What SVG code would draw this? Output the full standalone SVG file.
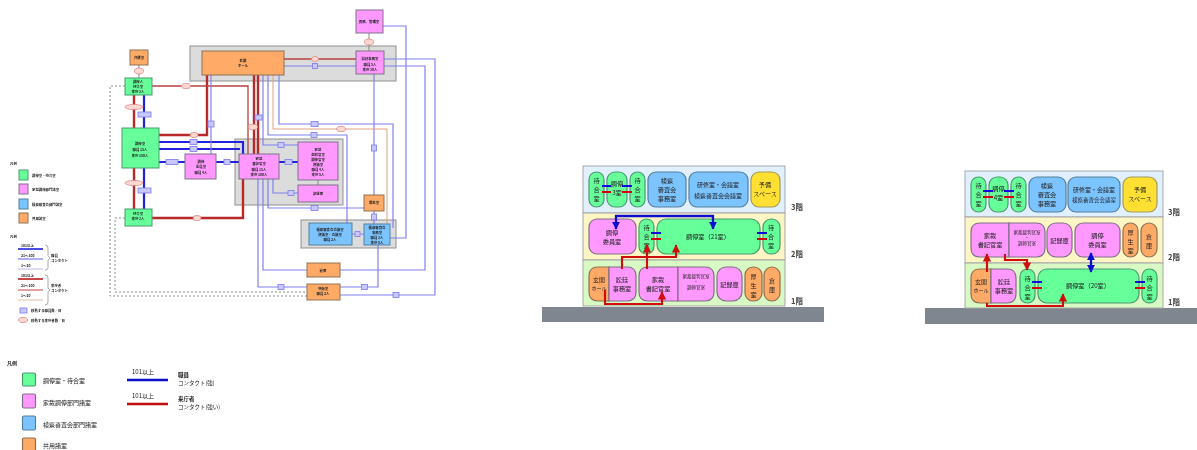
<svg xmlns="http://www.w3.org/2000/svg" width="1197" height="450" viewBox="0 0 1197 450">
<style>
text{font-family:"Noto Sans CJK JP","Liberation Sans",sans-serif;fill:#222;text-anchor:middle}
.l{text-anchor:start}
.t4{font-size:3.4px;font-weight:700}
.t5{font-size:5.5px}
.t6{font-size:6px}
.t7{font-size:6.2px}
.f{font-size:7.5px;font-weight:700;fill:#444}
.g{fill:#66ff99;stroke:#4d9a70}
.p{fill:#ff99ff;stroke:#80708a}
.b{fill:#7cc4ff;stroke:#55809a}
.o{fill:#ffaa66;stroke:#907050}
.y{fill:#ffe030;stroke:#a09a60}
.z{fill:#dcdcdc;stroke:#909090}
.r1,.r2,.b1,.b2,.or,.d{fill:none}
.r1{stroke:#b82a2a;stroke-width:2.4}
.r2{stroke:#b84040;stroke-width:1.3}
.or{stroke:#e0a080;stroke-width:1}
.b1{stroke:#2222dd;stroke-width:2.2}
.b2{stroke:#8080f0;stroke-width:1.2}
.d{stroke:#909090;stroke-width:1;stroke-dasharray:2 2}
.nb{fill:#c8c8ff;stroke:#7c7cf0;stroke-width:.8}
.ne{fill:#ffd8d0;stroke:#e08888;stroke-width:.8}
.s{stroke-width:1}
.m{stroke-width:1.2}
.cb{stroke:#0a0ad8;stroke-width:1.8;fill:none}
.cr{stroke:#d00010;stroke-width:1.8;fill:none}
.ar{stroke:#d01010;stroke-width:2.1;fill:none}
.ab{stroke:#1010d0;stroke-width:2.3;fill:none}
.band{stroke:#a8a8a8;stroke-width:1}
</style>
<defs>
<filter id="soft" x="-2%" y="-2%" width="104%" height="104%"><feGaussianBlur stdDeviation="0.45"/></filter>
<filter id="soft2" x="-2%" y="-2%" width="104%" height="104%"><feGaussianBlur stdDeviation="0.35"/></filter>
<marker id="ar" viewBox="0 0 10 10" refX="9" refY="5" markerWidth="4" markerHeight="4" orient="auto-start-reverse" markerUnits="strokeWidth"><path d="M0 0L10 5L0 10Z" fill="#d01010"/></marker>
<marker id="ab" viewBox="0 0 10 10" refX="9" refY="5" markerWidth="3.6" markerHeight="3.6" orient="auto-start-reverse" markerUnits="strokeWidth"><path d="M0 0L10 5L0 10Z" fill="#1010d0"/></marker>
</defs>

<g filter="url(#soft)">
<g id="zones">
<rect class="z" x="190" y="46" width="206" height="35"/>
<rect class="z" x="235" y="139" width="108" height="66"/>
<rect class="z" x="301" y="220" width="95" height="28"/>
</g>
<g id="connectors">
<path class="d" d="M125 86H110V296H307M125 218H115V292H307"/>
<path class="r1" d="M134 95V128M134 168V209M158 135H207V75M254 75V154M258 75V154M243 179V218H152"/>
<path class="r2" d="M152 86H248V154M284 59H356"/>
<path class="b1" d="M144 95V128M144 168V209M158 142H243V154M158 149H240M158 162H185M216 162H239M279 162H298"/>
<path class="b2" d="M211 75V154M263 75V145H298M268 75V135H347V223M279 75V124H393V228M284 66H356M384 59H435V295H340M384 66H425V270H340M383 26H406V238H390M374 74V195M374 211V224M258 179V287H307M263 179V270H307M268 179V208H364M273 179V193H298M352 234H364M378 245V287H340"/>
<path class="or" d="M273 75V129H387V224"/>
<path d="M318 180V185M139 65V78M369 33V51" stroke="#8a8a8a" fill="none"/>
<rect class="nb" x="138" y="112" width="13" height="5"/><ellipse class="ne" cx="134" cy="107" rx="9" ry="2.6"/>
<ellipse class="ne" cx="139" cy="71" rx="4.5" ry="3"/><ellipse class="ne" cx="186" cy="86" rx="4.5" ry="2.6"/><ellipse class="ne" cx="194" cy="135" rx="4" ry="2.6"/>
<rect class="nb" x="190" y="139.500" width="7" height="5"/><rect class="nb" x="190" y="146.500" width="7" height="5"/>
<rect class="nb" x="166" y="159.500" width="12" height="5"/><rect class="nb" x="224" y="159.500" width="6" height="5"/>
<rect class="nb" x="208" y="121" width="6" height="6"/><rect class="nb" x="255" y="115" width="7" height="5"/><ellipse class="ne" cx="253" cy="127" rx="4.500" ry="2.800"/>
<rect class="nb" x="278" y="142.500" width="6" height="5"/><rect class="nb" x="311" y="132.500" width="6" height="5"/>
<rect class="nb" x="311" y="121.500" width="7" height="5"/><ellipse class="ne" cx="341" cy="129" rx="4.500" ry="2.600"/>
<ellipse class="ne" cx="315" cy="59" rx="3.500" ry="2.500"/><rect class="nb" x="312.500" y="63.500" width="5" height="5"/><ellipse class="ne" cx="369" cy="42" rx="4.500" ry="3"/>
<ellipse class="ne" cx="134" cy="183" rx="9" ry="2.600"/><rect class="nb" x="138" y="188" width="13" height="5"/><ellipse class="ne" cx="197" cy="218" rx="4" ry="2.600"/>
<rect class="nb" x="285" y="159.500" width="7" height="5"/><rect class="nb" x="288" y="190.500" width="6" height="5"/><rect class="nb" x="311" y="205.500" width="7" height="5"/>
<rect class="nb" x="371.500" y="145" width="5" height="6"/><rect class="nb" x="371.500" y="214" width="5" height="6"/><rect class="nb" x="355" y="231.500" width="5" height="5"/>
<rect class="nb" x="278" y="284.500" width="6" height="5"/><rect class="nb" x="361.500" y="284.500" width="6" height="5"/><rect class="nb" x="393" y="292.500" width="6" height="5"/>
</g>
<g id="n-bengo"><rect class="o s" x="130" y="50" width="18" height="15"/><text class="t4" x="139" y="59">弁護室</text></g>
<g id="n-machi1"><rect class="g s" x="125" y="78" width="27" height="17"/><text class="t4" x="138" y="83">調停人</text><text class="t4" x="138" y="88">待合室</text><text class="t4" x="138" y="93">来庁 3人</text></g>
<g id="n-chotei"><rect class="g s" x="122" y="128" width="37" height="40"/><text class="t4" x="140" y="145">調停室</text><text class="t4" x="140" y="151">職員 15人</text><text class="t4" x="140" y="157">来庁 150人</text></g>
<g id="n-machi2"><rect class="g s" x="125" y="209" width="27" height="17"/><text class="t4" x="138" y="215">待合室</text><text class="t4" x="138" y="220">来庁 3人</text></g>
<g id="n-iin"><rect class="p s" x="185" y="154" width="31" height="25"/><text class="t4" x="201" y="163">調停</text><text class="t4" x="201" y="168">委員室</text><text class="t4" x="201" y="174">職員 4人</text></g>
<g id="n-shoki"><rect class="p s" x="239" y="154" width="40" height="25"/><text class="t4" x="259" y="160">家裁</text><text class="t4" x="259" y="165">書記官室</text><text class="t4" x="259" y="171">職員 15人</text><text class="t4" x="259" y="176">来庁 100人</text></g>
<g id="n-saiban"><rect class="p s" x="298" y="142" width="40" height="38"/><text class="t4" x="318" y="151">家裁</text><text class="t4" x="318" y="156">裁判官室</text><text class="t4" x="318" y="161">調停官室</text><text class="t4" x="318" y="166">評議室</text><text class="t4" x="318" y="171">職員 4人</text><text class="t4" x="318" y="176">来庁 5人</text></g>
<g id="n-kiroku"><rect class="p s" x="298" y="185" width="40" height="17"/><text class="t4" x="318" y="195">記録庫</text></g>
<g id="n-hall"><rect class="o s" x="202" y="51" width="82" height="24"/><text class="t4" x="243" y="62">玄関</text><text class="t4" x="243" y="67">ホール</text></g>
<g id="n-sotei"><rect class="p s" x="356" y="51" width="28" height="23"/><text class="t4" x="370" y="60">訟廷事務室</text><text class="t4" x="370" y="66">職員 5人</text><text class="t4" x="370" y="71">来庁 30人</text></g>
<g id="n-shomu"><rect class="p s" x="356" y="10" width="27" height="23"/><text class="t4" x="369" y="23">庶務、管理室</text></g>
<g id="n-kosei"><rect class="o s" x="364" y="195" width="20" height="16"/><text class="t4" x="374" y="204">厚生室</text></g>
<g id="n-kaigi"><rect class="b s" x="309" y="223" width="43" height="22"/><text class="t4" x="330" y="231">検察審査会会議室</text><text class="t4" x="330" y="236">評議室・会議室</text><text class="t4" x="330" y="241">職員 2人</text></g>
<g id="n-kensatsu"><rect class="b s" x="364" y="224" width="26" height="21"/><text class="t4" x="377" y="229">検察審査会</text><text class="t4" x="377" y="234">事務室</text><text class="t4" x="377" y="239">職員 3人</text><text class="t4" x="377" y="244">来庁 5人</text></g>
<g id="n-soko"><rect class="o s" x="307" y="263" width="33" height="14"/><text class="t4" x="323" y="272">倉庫</text></g>
<g id="n-shuei"><rect class="o s" x="307" y="284" width="33" height="16"/><text class="t4" x="323" y="290">守衛室</text><text class="t4" x="323" y="295">職員 2人</text></g>

<g id="legend-small">
<text class="t4 l" x="10" y="165">凡例</text>
<rect class="g s" x="19" y="170" width="9" height="10"/><text class="t4 l" x="32" y="177">調停室・待合室</text>
<rect class="p s" x="19" y="184" width="9" height="10"/><text class="t4 l" x="32" y="191">家裁調停部門諸室</text>
<rect class="b s" x="19" y="199" width="9" height="10"/><text class="t4 l" x="32" y="206">検察審査会部門諸室</text>
<rect class="o s" x="19" y="213" width="9" height="10"/><text class="t4 l" x="32" y="220">共用諸室</text>
<text class="t4 l" x="10" y="238">凡例</text>
<text class="t4 l" x="21" y="247">101以上</text><path d="M18 249H43" stroke="#2222dd" stroke-width="1.6"/>
<text class="t4 l" x="21" y="257">21～100</text><path d="M18 259H43" stroke="#6060e8" stroke-width="1"/>
<text class="t4 l" x="21" y="267">1～20</text><path d="M18 269H43" stroke="#a8a8f0" stroke-width=".8"/>
<text class="t4 l" x="21" y="277">101以上</text><path d="M18 279H43" stroke="#b81818" stroke-width="1.6"/>
<text class="t4 l" x="21" y="287">21～100</text><path d="M18 290H43" stroke="#c84848" stroke-width="1"/>
<text class="t4 l" x="21" y="297">1～20</text><path d="M18 300H43" stroke="#e0a890" stroke-width=".8"/>
<path d="M45 245Q48 245 48 248V256L50 258L48 260V268Q48 270 45 270M45 275Q48 275 48 278V288L50 290L48 292V302Q48 305 45 305" fill="none" stroke="#888" stroke-width=".7"/>
<text class="t4 l" x="51" y="257">職員</text><text class="t4 l" x="51" y="262">コンタクト</text>
<text class="t4 l" x="51" y="287">来庁者</text><text class="t4 l" x="51" y="292">コンタクト</text>
<rect class="nb" x="20" y="308" width="7" height="5"/><text class="t4 l" x="31" y="312">移動する職員数／日</text>
<ellipse class="ne" cx="23" cy="320" rx="4.500" ry="2.500"/><text class="t4 l" x="31" y="322">移動する来庁者数／日</text>
</g>

<g id="legend-large">
<text class="t4 l" x="7" y="365" style="font-size:5px">凡例</text>
<rect class="g m" x="22.500" y="373" width="13" height="13" rx="1.500"/><text class="t6 l" x="43" y="383">調停室・待合室</text>
<rect class="p m" x="22.500" y="394" width="13" height="14" rx="1.500"/><text class="t6 l" x="43" y="405">家裁調停部門諸室</text>
<rect class="b m" x="22.500" y="416" width="13" height="14" rx="1.500"/><text class="t6 l" x="43" y="427">検察審査会部門諸室</text>
<rect class="o m" x="22.500" y="438" width="13" height="14" rx="1.500"/><text class="t6 l" x="43" y="448">共用諸室</text>
<text class="t6" x="143" y="374">101以上</text><path d="M127 380H168" stroke="#1010c8" stroke-width="2.400"/>
<text class="t6" x="143" y="398">101以上</text><path d="M127 404H168" stroke="#c01010" stroke-width="2.400"/>
<text class="t5 l" x="178" y="377" style="font-weight:700">職員</text><text class="t5 l" x="178" y="385">コンタクト(強)</text>
<text class="t5 l" x="178" y="401" style="font-weight:700">来庁者</text><text class="t5 l" x="178" y="409">コンタクト(強い)</text>
</g>
</g>

<g filter="url(#soft2)">
<g id="building-21">
<rect x="542" y="307" width="282" height="15" fill="#7f8690"/>
<rect class="band" x="583" y="166" width="202" height="47" fill="#e0f0ff"/>
<rect class="band" x="583" y="213" width="202" height="47" fill="#fdf6c4"/>
<rect class="band" x="583" y="260" width="202" height="46" fill="#d8f8c4"/>
<g id="a3f">
<rect class="g m" x="589" y="172" width="15" height="35" rx="7.500"/><text class="t7" x="596.500" y="183">待</text><text class="t7" x="596.500" y="192">合</text><text class="t7" x="596.500" y="201">室</text>
<rect class="g m" x="607" y="172" width="20" height="35" rx="8"/><text class="t7" x="617" y="186">調停</text><text class="t7" x="617" y="195">3室</text>
<rect class="g m" x="630" y="172" width="15" height="35" rx="7.500"/><text class="t7" x="637.500" y="183">待</text><text class="t7" x="637.500" y="192">合</text><text class="t7" x="637.500" y="201">室</text>
<rect class="b m" x="648" y="172" width="38" height="35" rx="8"/><text class="t7" x="667" y="183">検察</text><text class="t7" x="667" y="192">審査会</text><text class="t7" x="667" y="201">事務室</text>
<rect class="b m" x="689" y="172" width="59" height="35" rx="8"/><text class="t6" x="718" y="187">研修室・会議室</text><text class="t6" x="718" y="198">検察審査会会議室</text>
<rect class="y m" x="751" y="172" width="29" height="35" rx="8"/><text class="t7" x="765" y="187">予備</text><text class="t6" x="765" y="196">スペース</text>
</g>
<g id="a2f">
<rect class="p m" x="589" y="219" width="47" height="35" rx="8"/><text class="t7" x="612" y="235">調停</text><text class="t7" x="612" y="244">委員室</text>
<rect class="g m" x="639" y="219" width="15" height="35" rx="7.500"/><text class="t7" x="646.500" y="230">待</text><text class="t7" x="646.500" y="239">合</text><text class="t7" x="646.500" y="248">室</text>
<rect class="g m" x="657" y="219" width="103" height="35" rx="9"/><text class="t7" x="708" y="239">調停室（21室）</text>
<rect class="g m" x="763" y="219" width="17" height="35" rx="8"/><text class="t7" x="771" y="230">待</text><text class="t7" x="771" y="239">合</text><text class="t7" x="771" y="248">室</text>
</g>
<g id="a1f">
<path class="o m" d="M609 267H598Q589 267 589 276V292Q589 301 598 301H609Z"/>
<path class="p m" d="M609 267H627Q636 267 636 276V292Q636 301 627 301H609Z"/>
<text class="t6" x="599" y="282">玄関</text><text class="t6" x="599" y="290" style="font-size:5px">ホール</text><text class="t7" x="622" y="282">訟廷</text><text class="t7" x="622" y="291">事務室</text>
<path class="p m" d="M678 267H648Q639 267 639 276V292Q639 301 648 301H678Z"/>
<path class="p m" d="M678 267H705Q714 267 714 276V292Q714 301 705 301H678Z"/>
<text class="t7" x="658" y="282">家裁</text><text class="t7" x="658" y="291">書記官室</text><text x="696" y="278" style="font-size:4.500px">家裁裁判官室<tspan x="696" dy="5">・</tspan><tspan x="696" dy="5.500">調停官室</tspan></text>
<rect class="p m" x="717" y="267" width="25" height="34" rx="9"/><text class="t7" x="729.500" y="287">記録庫</text>
<rect class="o m" x="745" y="267" width="17" height="34" rx="8"/><text class="t7" x="753.500" y="279">厚</text><text class="t7" x="753.500" y="288">生</text><text class="t7" x="753.500" y="297">室</text>
<rect class="o m" x="764" y="267" width="16" height="34" rx="8"/><text class="t7" x="772" y="283">倉</text><text class="t7" x="772" y="292">庫</text>
</g>
<g id="a-conn">
<path class="cb" d="M602 186H611M622 186H632M651 233H661M757 233H767"/>
<path class="cr" d="M602 192H611M622 192H632M651 239H661M757 239H767"/>
<path class="ab" d="M616 229V216H713V229" marker-start="url(#ab)" marker-end="url(#ab)"/>
<path class="ar" d="M622 269V257H676V245" marker-end="url(#ar)"/>
<path class="ar" d="M647 269V245" marker-end="url(#ar)"/>
<path class="ar" d="M605 290V304H662V292" marker-end="url(#ar)"/>
</g>
<text class="f" x="797" y="210">3階</text><text class="f" x="797" y="257">2階</text><text class="f" x="797" y="304">1階</text>
</g>

<g id="building-20">
<rect x="925" y="308" width="272" height="16" fill="#7f8690"/>
<rect class="band" x="965" y="171" width="198" height="46" fill="#e0f0ff"/>
<rect class="band" x="965" y="217" width="198" height="46" fill="#fdf6c4"/>
<rect class="band" x="965" y="263" width="198" height="45" fill="#d8f8c4"/>
<g id="b3f">
<rect class="g m" x="971" y="177" width="15" height="35" rx="7.500"/><text class="t7" x="978.500" y="188">待</text><text class="t7" x="978.500" y="197">合</text><text class="t7" x="978.500" y="206">室</text>
<rect class="g m" x="989" y="177" width="19" height="35" rx="8"/><text class="t7" x="998.500" y="191">調停</text><text class="t7" x="998.500" y="200">4室</text>
<rect class="g m" x="1011" y="177" width="15" height="35" rx="7.500"/><text class="t7" x="1018.500" y="188">待</text><text class="t7" x="1018.500" y="197">合</text><text class="t7" x="1018.500" y="206">室</text>
<rect class="b m" x="1029" y="177" width="37" height="35" rx="8"/><text class="t7" x="1047" y="188">検察</text><text class="t7" x="1047" y="197">審査会</text><text class="t7" x="1047" y="206">事務室</text>
<rect class="b m" x="1068" y="177" width="52" height="35" rx="8"/><text class="t6" x="1094" y="192">研修室・会議室</text><text class="t6" x="1094" y="202" style="font-size:5.500px">検察審査会会議室</text>
<rect class="y m" x="1123" y="177" width="34" height="35" rx="8"/><text class="t7" x="1140" y="192">予備</text><text class="t6" x="1140" y="201">スペース</text>
</g>
<g id="b2f">
<path class="p m" d="M1009 223H980Q971 223 971 232V248Q971 257 980 257H1009Z"/>
<path class="p m" d="M1009 223H1036Q1045 223 1045 232V248Q1045 257 1036 257H1009Z"/>
<text class="t7" x="990" y="238">家裁</text><text class="t7" x="990" y="247">書記官室</text><text x="1027" y="234" style="font-size:4.500px">家裁裁判官室<tspan x="1027" dy="5">・</tspan><tspan x="1027" dy="5.500">調停官室</tspan></text>
<rect class="p m" x="1047" y="223" width="25" height="34" rx="9"/><text class="t7" x="1059.500" y="243">記録庫</text>
<rect class="p m" x="1075" y="223" width="45" height="34" rx="8"/><text class="t7" x="1097.500" y="238">調停</text><text class="t7" x="1097.500" y="247">委員室</text>
<rect class="o m" x="1123" y="223" width="15" height="34" rx="7.500"/><text class="t7" x="1130.500" y="235">厚</text><text class="t7" x="1130.500" y="244">生</text><text class="t7" x="1130.500" y="253">室</text>
<rect class="o m" x="1141" y="223" width="16" height="34" rx="8"/><text class="t7" x="1149" y="239">倉</text><text class="t7" x="1149" y="248">庫</text>
</g>
<g id="b1f">
<path class="o m" d="M991 269H980Q971 269 971 278V294Q971 303 980 303H991Z"/>
<path class="p m" d="M991 269H1007Q1016 269 1016 278V294Q1016 303 1007 303H991Z"/>
<text class="t6" x="981" y="284">玄関</text><text class="t6" x="981" y="292" style="font-size:5px">ホール</text><text class="t7" x="1004" y="284">訟廷</text><text class="t7" x="1004" y="293">事務室</text>
<rect class="g m" x="1020" y="269" width="15" height="34" rx="7.500"/><text class="t7" x="1027.500" y="281">待</text><text class="t7" x="1027.500" y="290">合</text><text class="t7" x="1027.500" y="299">室</text>
<rect class="g m" x="1038" y="269" width="101" height="34" rx="9"/><text class="t7" x="1088" y="288">調停室（20室）</text>
<rect class="g m" x="1142" y="269" width="15" height="34" rx="7.500"/><text class="t7" x="1149.500" y="281">待</text><text class="t7" x="1149.500" y="290">合</text><text class="t7" x="1149.500" y="299">室</text>
</g>
<g id="b-conn">
<path class="cb" d="M983 191H993M1004 191H1014M1032 282H1042M1135 282H1145"/>
<path class="cr" d="M983 197H993M1004 197H1014M1032 288H1042M1135 288H1145"/>
<path class="ar" d="M987 272V254" marker-end="url(#ar)"/>
<path class="ar" d="M1005 254V260H1027V270" marker-end="url(#ar)"/>
<path class="ar" d="M987 303V306H1063V294" marker-end="url(#ar)"/>
<path class="ab" d="M1091 253V272" marker-start="url(#ab)" marker-end="url(#ab)"/>
</g>
<text class="f" x="1174" y="215">3階</text><text class="f" x="1174" y="260">2階</text><text class="f" x="1174" y="305">1階</text>
</g>
</g>
</svg>
